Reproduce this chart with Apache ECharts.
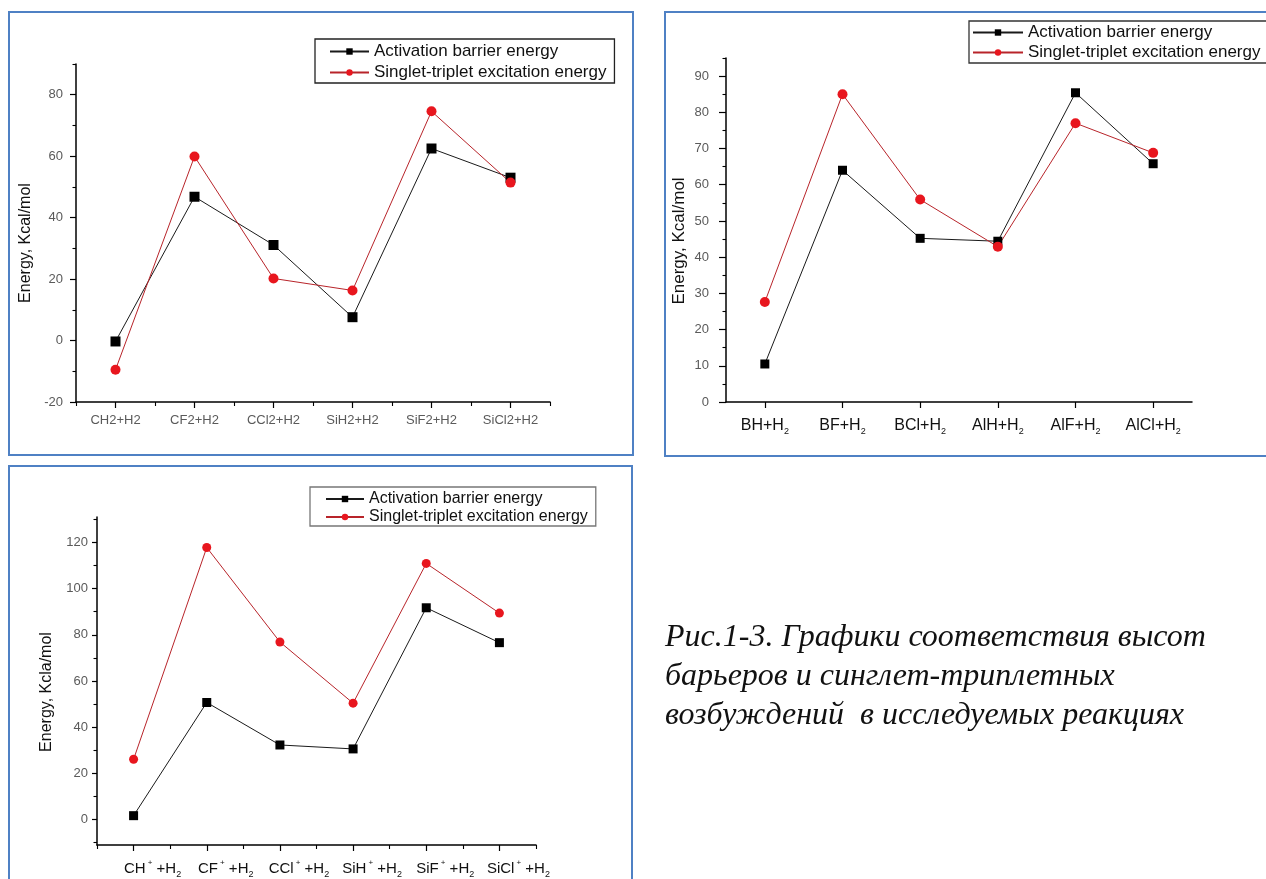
<!DOCTYPE html>
<html>
<head>
<meta charset="utf-8">
<title>Energy comparison charts</title>
<script src="https://cdn.jsdelivr.net/npm/echarts@6/dist/echarts.min.js"></script>
<style>
  html, body { margin: 0; padding: 0; background: #fff; }
  #chart { width: 1266px; height: 879px; }
</style>
</head>
<body>
<div id="chart"></div>
<script>
// ---- data: carbene / silylene reactions with H2
const cats1 = ['CH2+H2', 'CF2+H2', 'CCl2+H2', 'SiH2+H2', 'SiF2+H2', 'SiCl2+H2'];
const barrier1 = [-0.3, 46.8, 31.1, 7.6, 62.5, 53.0];
const singlet1 = [-9.5, 59.9, 20.2, 16.3, 74.6, 51.4];
const yTicks1 = [-20, 0, 20, 40, 60, 80];
const yMinor1 = [-10, 10, 30, 50, 70, 90];

// ---- data: boron / aluminium hydrides and halides with H2
const cats2 = ['BH+H2', 'BF+H2', 'BCl+H2', 'AlH+H2', 'AlF+H2', 'AlCl+H2'];
const barrier2 = [10.5, 64.0, 45.2, 44.4, 85.4, 65.8];
const singlet2 = [27.6, 85.0, 55.9, 42.9, 77.0, 68.8];
const yTicks2 = [0, 10, 20, 30, 40, 50, 60, 70, 80, 90];
const yMinor2 = [5, 15, 25, 35, 45, 55, 65, 75, 85, 95];

// ---- data: carbyne / silylyne cations with H2
const cats3 = ['CH', 'CF', 'CCl', 'SiH', 'SiF', 'SiCl'];
const barrier3 = [1.7, 50.7, 32.3, 30.6, 91.7, 76.6];
const singlet3 = [26.1, 117.8, 76.9, 50.4, 110.9, 89.4];
const yTicks3 = [0, 20, 40, 60, 80, 100, 120];
const yMinor3 = [-10, 10, 30, 50, 70, 90, 110, 130];

const yTitles = ['Energy, Kcal/mol', 'Energy, Kcal/mol', 'Energy, Kcla/mol'];

const captionLines = [
  'Рис.1-3. Графики соответствия высот',
  'барьеров и синглет-триплетных',
  'возбуждений  в исследуемых реакциях'
];

const NAME_A = 'Activation barrier energy';
const NAME_B = 'Singlet-triplet excitation energy';
const SANS = '"Liberation Sans", Arial, sans-serif';
const FRAME = '#4f81c4';

const chart = echarts.init(document.getElementById('chart'), null, { renderer: 'canvas' });

// main value axis (labels + long ticks) and a companion axis carrying the short minor ticks
function valueAxes(grid, min, max, major, minor, labelMargin, tickLen) {
  return [
    {
      type: 'value', gridIndex: grid, min: min, max: max, position: 'left',
      axisLine: { show: true, onZero: false, lineStyle: { color: '#000', width: 1.5 } },
      axisTick: { show: true, customValues: major, length: tickLen, lineStyle: { color: '#000', width: 1.2 } },
      axisLabel: { customValues: major, color: '#5a5a5a', fontSize: 13, fontFamily: SANS, margin: labelMargin },
      splitLine: { show: false }
    },
    {
      type: 'value', gridIndex: grid, min: min, max: max, position: 'left', offset: 0,
      axisLine: { show: false, onZero: false },
      axisTick: { show: true, customValues: minor, length: 3.5, lineStyle: { color: '#000', width: 1.1 } },
      axisLabel: { show: false },
      splitLine: { show: false }
    }
  ];
}

function catAxes(grid, data, labelOpt, withMinor) {
  const axes = [{
    type: 'category', gridIndex: grid, data: data, boundaryGap: true, position: 'bottom',
    axisLine: { show: true, onZero: false, lineStyle: { color: '#000', width: 1.5 } },
    axisTick: { show: true, alignWithLabel: true, interval: 0, length: 6, lineStyle: { color: '#000', width: 1.2 } },
    axisLabel: Object.assign({ interval: 0, fontFamily: SANS }, labelOpt),
    splitLine: { show: false }
  }];
  if (withMinor) {
    axes.push({
      type: 'category', gridIndex: grid, data: data, boundaryGap: true, position: 'bottom', offset: 0,
      axisLine: { show: false, onZero: false },
      axisTick: { show: true, alignWithLabel: false, interval: 0, length: 4, lineStyle: { color: '#000', width: 1.1 } },
      axisLabel: { show: false },
      splitLine: { show: false }
    });
  }
  return axes;
}

function seriesPair(xi, yi, a, b, sqSize, cirSize) {
  return [
    {
      name: NAME_A, type: 'line', xAxisIndex: xi, yAxisIndex: yi, data: a,
      symbol: 'rect', symbolSize: sqSize, showAllSymbol: true,
      lineStyle: { color: '#1a1a1a', width: 1 },
      itemStyle: { color: '#000' }, emphasis: { disabled: true }, animation: false
    },
    {
      name: NAME_B, type: 'line', xAxisIndex: xi, yAxisIndex: yi, data: b,
      symbol: 'circle', symbolSize: cirSize, showAllSymbol: true,
      lineStyle: { color: '#b8242a', width: 1 },
      itemStyle: { color: '#e8161e' }, emphasis: { disabled: true }, animation: false
    }
  ];
}

function legendAt(left, top, fontSize, borderColor, pad, gap, iconW) {
  return {
    data: [NAME_A, NAME_B], orient: 'vertical', left: left, top: top,
    itemWidth: iconW, itemHeight: 8, itemGap: gap, padding: pad,
    borderColor: borderColor, borderWidth: 1.3, backgroundColor: '#fff',
    selectedMode: false,
    textStyle: { color: '#111', fontSize: fontSize, fontFamily: SANS }
  };
}

const subLabel = {
  interval: 0,
  formatter: function (v) { return '{n|' + v.slice(0, -1) + '}{s|' + v.slice(-1) + '}'; },
  margin: 14,
  rich: {
    n: { fontSize: 16, color: '#111', fontFamily: SANS, lineHeight: 20 },
    s: { fontSize: 9, color: '#111', fontFamily: SANS, lineHeight: 9, verticalAlign: 'bottom' }
  }
};

const ionLabel = {
  interval: 0,
  formatter: function (v) { return '{n|' + v + '}{p|+}{n| +H}{s|2}'; },
  margin: 14,
  padding: [0, 0, 0, 38],
  rich: {
    n: { fontSize: 15, color: '#111', fontFamily: SANS, lineHeight: 20 },
    p: { fontSize: 8, color: '#111', fontFamily: SANS, lineHeight: 9, verticalAlign: 'top', padding: [0, 0, 0, 2] },
    s: { fontSize: 9, color: '#111', fontFamily: SANS, lineHeight: 9, verticalAlign: 'bottom' }
  }
};

// rotated y-axis titles: [x, y, fontSize]
const titlePos = [[26, 243, 16], [679, 241, 17], [47, 692, 16]];

const option = {
  backgroundColor: '#fff',
  animation: false,
  grid: [
    { left: 76, top: 64, width: 474, height: 338 },
    { left: 726, top: 58, width: 466, height: 344 },
    { left: 97, top: 517, width: 439, height: 329 }
  ],
  xAxis: [].concat(
    catAxes(0, cats1, { fontSize: 13, color: '#5a5a5a', margin: 12 }, true),
    catAxes(1, cats2, subLabel, false),
    catAxes(2, cats3, ionLabel, true)
  ),
  yAxis: [].concat(
    valueAxes(0, -20, 90, yTicks1, yMinor1, 13, 6),
    valueAxes(1, 0, 95, yTicks2, yMinor2, 17, 7),
    valueAxes(2, -11, 131, yTicks3, yMinor3, 9, 5)
  ),
  legend: [
    legendAt(315, 39, 17, '#222', [4, 8, 2, 14], 4, 39),
    legendAt(969, 21, 17, '#333', [3, 8, 2, 3], 3, 50),
    legendAt(310, 487, 16, '#777', [4, 8, 1, 15], 2, 38)
  ],
  series: [].concat(
    seriesPair(0, 0, barrier1, singlet1, 10, 10),
    seriesPair(2, 2, barrier2, singlet2, 9, 10),
    seriesPair(3, 4, barrier3, singlet3, 9, 9)
  ),
  graphic: [
    { type: 'rect', shape: { x: 9, y: 12, width: 624, height: 443 }, style: { fill: 'none', stroke: FRAME, lineWidth: 2 }, z: 100, silent: true },
    { type: 'rect', shape: { x: 665, y: 12, width: 610, height: 444 }, style: { fill: 'none', stroke: FRAME, lineWidth: 2 }, z: 100, silent: true },
    { type: 'rect', shape: { x: 9, y: 466, width: 623, height: 430 }, style: { fill: 'none', stroke: FRAME, lineWidth: 2 }, z: 100, silent: true }
  ].concat(yTitles.map(function (t, i) {
    return {
      type: 'text', x: titlePos[i][0], y: titlePos[i][1], rotation: Math.PI / 2, silent: true,
      style: { text: t, fill: '#111', fontSize: titlePos[i][2], fontFamily: SANS, align: 'center', verticalAlign: 'middle' }
    };
  })).concat(captionLines.map(function (t, i) {
    return {
      type: 'text', left: 665, top: 622 + i * 39, silent: true,
      style: { text: t, fill: '#111', font: 'italic 32px "Liberation Serif", "Times New Roman", serif' }
    };
  }))
};

chart.setOption(option);
</script>
</body>
</html>
